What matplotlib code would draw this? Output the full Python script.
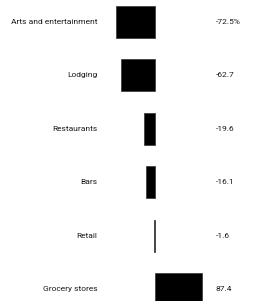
import matplotlib
matplotlib.use("Agg")
import matplotlib.pyplot as plt

categories = ["Arts and entertainment", "Lodging", "Restaurants", "Bars", "Retail", "Grocery stores"]
changes = [-72.5, -62.7, -19.6, -16.1, -1.6, 87.4]
value_labels = ["-72.5%", "-62.7", "-19.6", "-16.1", "-1.6", "87.4"]

plt.rcParams['font.family'] = ['Roboto', 'DejaVu Sans']

fig = plt.figure(figsize=(2.57, 3.01), dpi=100)
ax = fig.add_axes([0, 0, 1, 1])

ypos = list(range(len(categories)))
ax.barh(ypos, changes, height=0.6, color="black", edgecolor="#333333", linewidth=0.5)

# category names to the left, values to the right
for y, cat, lab in zip(ypos, categories, value_labels):
    ax.text(-108, y, cat, ha="right", va="center", fontsize=6.0, color="#1a1a1a")
    ax.text(114, y, lab, ha="left", va="center", fontsize=6.0, color="#1a1a1a")

ax.set_xlim(-289.7, 190.7)
ax.set_ylim(5.22, -0.41)
ax.axis("off")

fig.savefig("out.png", dpi=100)
